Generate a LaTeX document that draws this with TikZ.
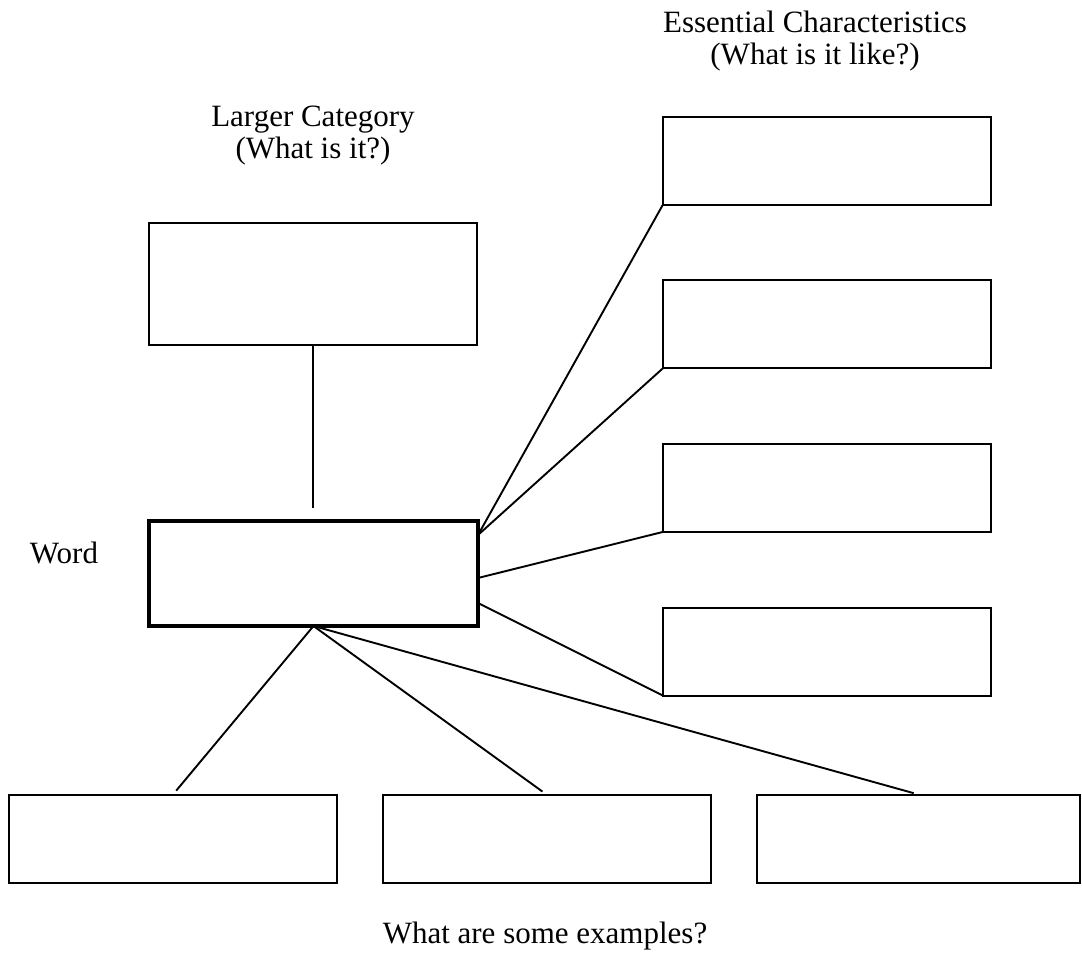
\documentclass[tikz,border=0pt]{standalone}
\usepackage{fontspec}
\setmainfont{Liberation Serif}
\usetikzlibrary{positioning,calc}

\begin{document}
\begin{tikzpicture}[x=1pt,y=-1pt,node distance=163.7pt,on grid,
   blank/.style={draw,line width=2pt,minimum width=328pt,minimum height=88pt,inner sep=0pt,outer sep=0pt},
   heading/.style={font=\fontsize{31}{32}\selectfont,align=center,anchor=base,inner sep=0pt},
   link/.style={line width=1.9pt}]
   \useasboundingbox (0,0) rectangle (1082,953);
   % boxes
   \node[blank,minimum height=122pt]                                  (cat)  at (313,284)     {};
   \node[blank,line width=3.6pt,minimum width=329pt,minimum height=105pt] (word) at (313.5,573.5) {};
   \node[blank]                  (ch1) at (827,160.5) {};
   \node[blank]                  (ch2) [below=of ch1] {};
   \node[blank]                  (ch3) [below=of ch2] {};
   \node[blank]                  (ch4) [below=of ch3] {};
   \node[blank]                  (ex1) at (173,838.5) {};
   \node[blank]                  (ex2) [right=373.5pt of ex1] {};
   \node[blank,minimum width=323pt] (ex3) at (918.5,838.5) {};
   % texts (base = last line)
   \node[heading] (ess)      at (815,64)  {Essential Characteristics\\(What is it like?)};
   \node[heading] (larger)   at (313,158) {Larger Category\\(What is it?)};
   \node[heading] (wordtxt)  at (64,563)  {Word};
   \node[heading] (examples) at (545,943) {What are some examples?};
   % connectors
   \coordinate (w1) at ($(word.north east)+(0,14)$);
   \coordinate (w2) at ($(word.north east)+(0,57)$);
   \coordinate (w3) at ($(word.north east)+(0,82)$);
   \draw[link,shorten >=13pt] (cat.south) -- (cat.south |- word.north);
   \path[link]
    (w1)   edge (ch1.south west)
           edge (ch2.south west)
    (w2)   edge (ch3.south west)
    (w3)   edge (ch4.south west);
   \path[link,shorten >=5pt]
    (word.south) edge (ex1.north)
                 edge (ex2.north)
                 edge (ex3.north);
\end{tikzpicture}
\end{document}
